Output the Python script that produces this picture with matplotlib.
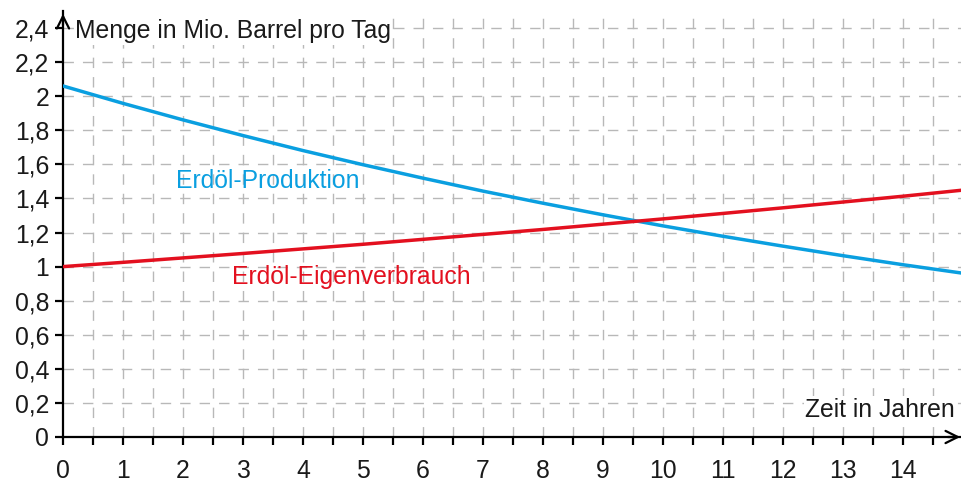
import numpy as np
import matplotlib.pyplot as plt

plt.rcParams['font.family'] = ['Liberation Sans', 'DejaVu Sans']

# Zeit in Jahren
years = list(range(16))
# Erdöl-Produktion (Mio. Barrel pro Tag)
production = [2.06, 1.958, 1.861, 1.769, 1.681, 1.598, 1.519, 1.443,
              1.372, 1.304, 1.239, 1.178, 1.120, 1.064, 1.011, 0.961]
# Erdöl-Eigenverbrauch
consumption = [1.000, 1.025, 1.051, 1.077, 1.104, 1.131, 1.160, 1.189,
               1.218, 1.249, 1.280, 1.312, 1.345, 1.379, 1.413, 1.449]

y_ticks = [0, 0.2, 0.4, 0.6, 0.8, 1, 1.2, 1.4, 1.6, 1.8, 2, 2.2, 2.4]
y_labels = ['0', '0,2', '0,4', '0,6', '0,8', '1', '1,2', '1,4', '1,6',
            '1,8', '2', '2,2', '2,4']
x_labels = [str(i) for i in range(15)]

blue = '#0a9fe0'
red = '#e3101f'
grid_col = '#b8b8b8'
txt_col = '#1a1a1a'
fs = 17.8

fig = plt.figure(figsize=(9.62, 4.84), dpi=100)
ax = fig.add_axes([63 / 962, 47 / 484, 900 / 962, 426 / 484])
ax.set_xlim(0, 15)
ax.set_ylim(0, 2.5)

# dashed grid
for gx in np.arange(0.5, 15, 0.5):
    ax.axvline(gx, color=grid_col, lw=1.0, dashes=(7.5, 6.5), zorder=0)
for gy in y_ticks[1:]:
    ax.axhline(gy, color=grid_col, lw=1.0, dashes=(7.5, 6.5), zorder=0)

ax.plot(years, production, color=blue, lw=2.5, zorder=3)
ax.plot(years, consumption, color=red, lw=2.5, zorder=3)

for s in ['top', 'right']:
    ax.spines[s].set_visible(False)
for s in ['left', 'bottom']:
    ax.spines[s].set_linewidth(1.6)
    ax.spines[s].set_color('black')

x_ticks = np.arange(0, 14.6, 0.5)
ax.set_yticks(y_ticks)
ax.set_yticklabels(y_labels)
ax.set_xticks(x_ticks)
ax.set_xticklabels([x_labels[i // 2] if i % 2 == 0 else ''
                    for i in range(len(x_ticks))])
ax.tick_params(axis='both', direction='out', length=6, width=1.6,
               labelsize=fs, labelcolor=txt_col)
ax.tick_params(axis='x', pad=10)
ax.tick_params(axis='y', pad=4)

# axis arrows
ax.annotate('', xy=(1.0, 0), xytext=(0.98, 0), xycoords='axes fraction',
            arrowprops=dict(arrowstyle='->', lw=1.6, color='black',
                            mutation_scale=22), annotation_clip=False)
ax.annotate('', xy=(0, 1.0), xytext=(0, 0.96), xycoords='axes fraction',
            arrowprops=dict(arrowstyle='->', lw=1.6, color='black',
                            mutation_scale=22), annotation_clip=False)

ax.text(0.2, 2.38, 'Menge in Mio. Barrel pro Tag', fontsize=fs,
        color=txt_col, va='center', ha='left',
        bbox=dict(facecolor='white', edgecolor='none', pad=1))
ax.text(14.87, 0.16, 'Zeit in Jahren', fontsize=fs, color=txt_col,
        va='center', ha='right',
        bbox=dict(facecolor='white', edgecolor='none', pad=1))
ax.text(1.88, 1.50, 'Erdöl-Produktion', fontsize=fs, color=blue,
        va='center', ha='left')
ax.text(2.82, 0.94, 'Erdöl-Eigenverbrauch', fontsize=fs, color=red,
        va='center', ha='left')

fig.savefig('out.png', dpi=100)
